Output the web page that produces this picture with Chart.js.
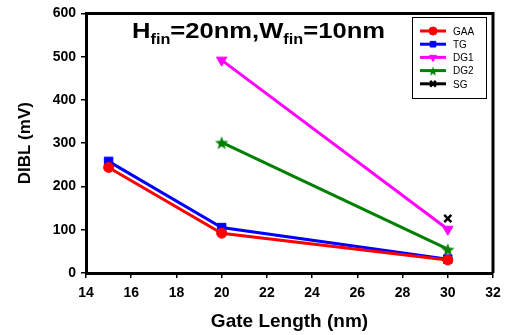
<!DOCTYPE html>
<html>
<head>
<meta charset="utf-8">
<script src="https://cdn.jsdelivr.net/npm/chart.js@4.4.1/dist/chart.umd.min.js"></script>
<style>
  html, body { margin: 0; padding: 0; background: #fff; }
</style>
</head>
<body>
<canvas id="dibl" width="509" height="335"></canvas>
<script>
// valores
const gaaX = [15, 20, 30];
const gaaY = [244, 92, 30];
const tgX = [15, 20, 30];
const tgY = [258, 105, 32];
const dg1X = [20, 30];
const dg1Y = [492, 101];
const dg2X = [20, 30];
const dg2Y = [302, 55];
const sgX = [30];
const sgY = [126];

const xTicks = [14, 16, 18, 20, 22, 24, 26, 28, 30, 32];
const yTicks = [0, 100, 200, 300, 400, 500, 600];

const FONT = '"Liberation Sans", Arial, sans-serif';

function toPoints(xs, ys) {
  return xs.map((x, i) => ({ x: x, y: ys[i] }));
}

// estrella rellena para DG2
function starImage(color, r) {
  const c = document.createElement('canvas');
  const s = r * 2 + 2;
  c.width = s; c.height = s;
  const g = c.getContext('2d');
  g.translate(s / 2, s / 2 + 1);
  g.beginPath();
  for (let i = 0; i < 10; i++) {
    const rr = i % 2 === 0 ? r : r * 0.42;
    const a = -Math.PI / 2 + i * Math.PI / 5;
    g.lineTo(Math.cos(a) * rr, Math.sin(a) * rr);
  }
  g.closePath();
  g.fillStyle = color;
  g.fill();
  return c;
}

const star = starImage('#008000', 7);
const starSmall = starImage('#008000', 5);

const series = [
  { label: 'GAA', data: toPoints(gaaX, gaaY), color: '#ff0000', pointStyle: 'circle', radius: 5 },
  { label: 'TG', data: toPoints(tgX, tgY), color: '#0000ff', pointStyle: 'rect', radius: 6 },
  { label: 'DG1', data: toPoints(dg1X, dg1Y), color: '#ff00ff', pointStyle: 'triangle', radius: 6, rotation: 180 },
  { label: 'DG2', data: toPoints(dg2X, dg2Y), color: '#008000', pointStyle: star, radius: 7 },
  { label: 'SG', data: toPoints(sgX, sgY), color: '#000000', pointStyle: 'crossRot', radius: 5 }
];

// marco superior/derecho, titulo con subindices y leyenda
const extras = {
  id: 'extras',
  afterDraw(chart) {
    const ctx = chart.ctx;
    const a = chart.chartArea;
    ctx.save();
    ctx.strokeStyle = '#000';
    ctx.lineWidth = 3;
    ctx.beginPath();
    ctx.moveTo(a.left, a.top);
    ctx.lineTo(a.right, a.top);
    ctx.lineTo(a.right, a.bottom);
    ctx.stroke();

    // titulo (estirado a lo ancho como en la figura)
    const big = 'bold 22px ' + FONT;
    const small = 'bold 14px ' + FONT;
    const parts = [
      ['H', big, 0], ['fin', small, 6], ['=20nm,W', big, 0], ['fin', small, 6], ['=10nm', big, 0]
    ];
    let total = 0;
    parts.forEach(p => { ctx.font = p[1]; total += ctx.measureText(p[0]).width; });
    const sx = 253 / total;
    ctx.save();
    ctx.translate(132, 38);
    ctx.scale(sx, 1);
    let x = 0;
    ctx.fillStyle = '#000';
    ctx.textBaseline = 'alphabetic';
    ctx.textAlign = 'left';
    parts.forEach(p => {
      ctx.font = p[1];
      ctx.fillText(p[0], x, p[2]);
      x += ctx.measureText(p[0]).width;
    });
    ctx.restore();

    // leyenda
    const lx = 412, ly = 17, lw = 74, lh = 81;
    ctx.fillStyle = '#fff';
    ctx.fillRect(lx, ly, lw, lh);
    ctx.lineWidth = 1;
    ctx.strokeStyle = '#000';
    ctx.strokeRect(lx + 0.5, ly + 0.5, lw, lh);
    ctx.font = '10px ' + FONT;
    ctx.textBaseline = 'middle';
    chart.data.datasets.forEach((ds, i) => {
      const y = 31 + i * 13.2;
      ctx.strokeStyle = ds.borderColor;
      ctx.lineWidth = 3;
      ctx.beginPath();
      ctx.moveTo(420, y);
      ctx.lineTo(446, y);
      ctx.stroke();
      ctx.fillStyle = ds.pointBackgroundColor;
      ctx.strokeStyle = ds.pointBorderColor;
      ctx.lineWidth = ds.pointBorderWidth;
      Chart.helpers.drawPoint(ctx, {
        pointStyle: ds.pointStyle === star ? starSmall : ds.pointStyle,
        rotation: ds.rotation || 0,
        radius: 4,
        borderWidth: ds.pointBorderWidth
      }, 433, y);
      ctx.fillStyle = '#000';
      ctx.fillText(ds.label, 453, y + 1);
    });
    ctx.restore();
  }
};

const ctx = document.getElementById('dibl').getContext('2d');
new Chart(ctx, {
  type: 'line',
  data: {
    datasets: series.map(s => ({
      label: s.label,
      data: s.data,
      borderColor: s.color,
      backgroundColor: s.color,
      pointBackgroundColor: s.color,
      pointBorderColor: s.color,
      pointStyle: s.pointStyle,
      pointRadius: s.radius,
      pointBorderWidth: s.label === 'SG' ? 2.5 : 1,
      rotation: s.rotation || 0,
      borderWidth: 3,
      fill: false,
      tension: 0
    }))
  },
  options: {
    responsive: false,
    animation: false,
    layout: { padding: { left: 0, right: 16, top: 12, bottom: 0 } },
    plugins: { legend: { display: false }, tooltip: { enabled: false } },
    scales: {
      x: {
        type: 'linear',
        min: 14, max: 32,
        afterBuildTicks: s => { s.ticks = xTicks.map(v => ({ value: v })); },
        afterFit: s => { s.height = 62; },
        border: { display: true, color: '#000', width: 3 },
        grid: { display: true, drawOnChartArea: false, drawTicks: true, tickLength: 5, color: '#000', lineWidth: 1.5 },
        ticks: { color: '#000', padding: 7, maxRotation: 0, font: { family: FONT, size: 14, weight: 'bold' } },
        title: { display: true, text: 'Gate Length (nm)', color: '#000', padding: { top: 4, bottom: 2 }, font: { family: FONT, size: 19, weight: 'bold' } }
      },
      y: {
        min: 0, max: 600,
        afterBuildTicks: s => { s.ticks = yTicks.map(v => ({ value: v })); },
        afterFit: s => { s.width = 86; },
        border: { display: true, color: '#000', width: 3 },
        grid: { display: true, drawOnChartArea: false, drawTicks: true, tickLength: 5, color: '#000', lineWidth: 1.5 },
        ticks: { color: '#000', padding: 5, font: { family: FONT, size: 14, weight: 'bold' } },
        title: { display: true, text: 'DIBL (mV)', color: '#000', padding: { top: 15, bottom: 4 }, font: { family: FONT, size: 17, weight: 'bold' } }
      }
    }
  },
  plugins: [extras]
});
</script>
</body>
</html>
